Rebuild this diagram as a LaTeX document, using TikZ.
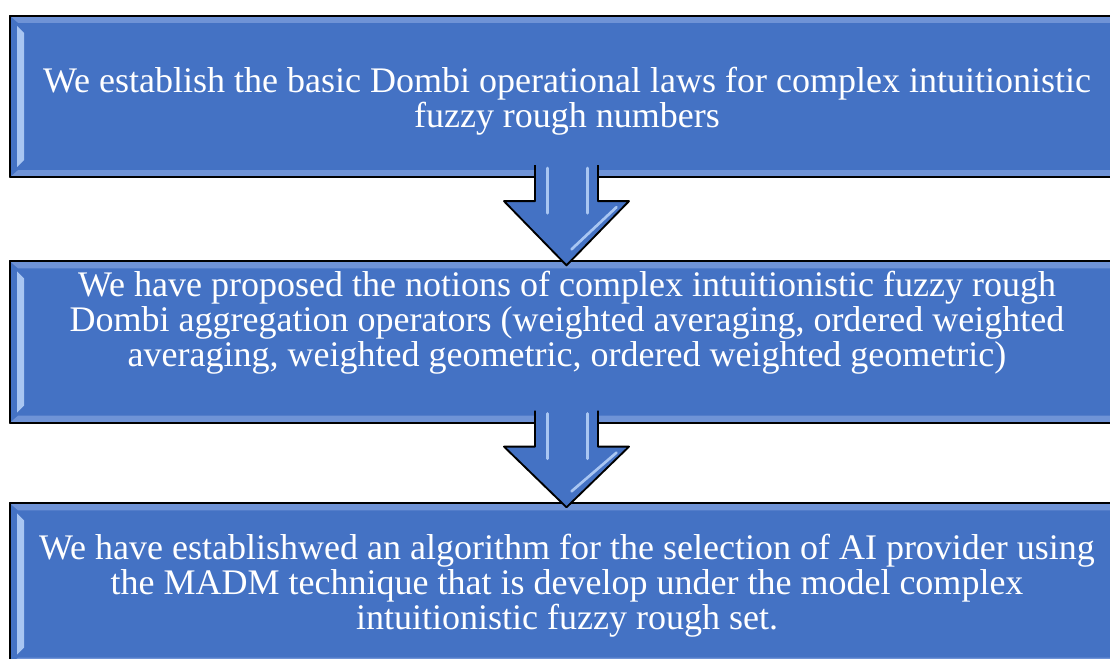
\documentclass[tikz,border=0pt]{standalone}
\usepackage{fontspec}
\setmainfont{Liberation Serif}
\usetikzlibrary{calc,positioning}
\definecolor{boxblue}{HTML}{4472C4}
\definecolor{bevellight}{HTML}{A9C6F2}
\definecolor{beveltop}{HTML}{6F93D6}

\begin{document}
\begin{tikzpicture}[x=0.75pt, y=0.75pt, line join=round,
  flowbox/.style={draw=black, line width=1.5pt, fill=boxblue, minimum width=835.5pt, minimum height=121pt, inner sep=0pt, outer sep=0pt},
  flowtext/.style={text=white, font=\fontsize{27}{26.3}\selectfont, align=center, inner sep=0pt},
  flowarrow/.style={draw=black, line width=1.4pt, fill=boxblue},
  shine/.style={bevellight, line width=2.2pt, line cap=round}]
  \clip (0,0) rectangle (1110,659);
  \fill[white] (0,0) rectangle (1110,659);

  \node[flowbox] (box1) at (567,562.5) {};
  \node[flowbox] (box2) at (567,317) {};
  \node[flowbox] (box3) at (567,75) {};

  % bevel edges
  \foreach \b in {box1,box2,box3} {
    \fill[beveltop] (\b.north west) -- (\b.north east) -- ($(\b.north east)+(-8,-7)$) -- ($(\b.north west)+(8,-7)$) -- cycle;
    \fill[beveltop] (\b.south west) -- (\b.south east) -- ($(\b.south east)+(-8,7)$) -- ($(\b.south west)+(8,7)$) -- cycle;
    \fill[bevellight] ($(\b.north west)+(7,-10)$) -- ($(\b.north west)+(14,-17)$) -- ($(\b.south west)+(14,17)$) -- ($(\b.south west)+(7,10)$) -- cycle;
    \draw[black, line width=1.5pt] (\b.north west) rectangle (\b.south east);
  }

  \node[flowtext] (txt1) at (567,558) {We establish the basic Dombi operational laws for complex intuitionistic\\fuzzy rough numbers};
  \node[flowtext] (txt2) at (567,336) {We have proposed the notions of complex intuitionistic fuzzy rough\\Dombi aggregation operators (weighted averaging, ordered weighted\\averaging, weighted geometric, ordered weighted geometric)};
  \node[flowtext] (txt3) at (567,73) {We have establishwed an algorithm for the selection of AI provider using\\the MADM technique that is develop under the model complex\\intuitionistic fuzzy rough set.};

  % block arrows between the boxes
  \foreach \a/\b in {box1/box2, box2/box3} {
    \coordinate (s) at ($(\a.south)+(-0.5,12)$);
    \coordinate (h) at ($(\a.south)+(-0.5,-24)$);
    \coordinate (t) at ($(\b.north)+(-0.5,-4)$);
    \fill[boxblue] ($(s)+(-31.5,0)$) rectangle ($(h)+(31.5,0)$);
    \draw[flowarrow] ($(s)+(-31.5,0)$) -- ($(h)+(-31.5,0)$) -- ($(h)+(-62.5,0)$) -- (t) -- ($(h)+(62.5,0)$) -- ($(h)+(31.5,0)$) -- ($(s)+(31.5,0)$);
    \draw[shine] ($(s)+(-19,-3)$) -- ($(h)+(-19,-12)$);
    \draw[shine] ($(s)+(21,-3)$) -- ($(h)+(21,-12)$);
    \draw[bevellight, line width=2pt, line cap=round] ($(h)+(50,-6)$) -- ($(t)+(5,16)$);
  }
\end{tikzpicture}
\end{document}
